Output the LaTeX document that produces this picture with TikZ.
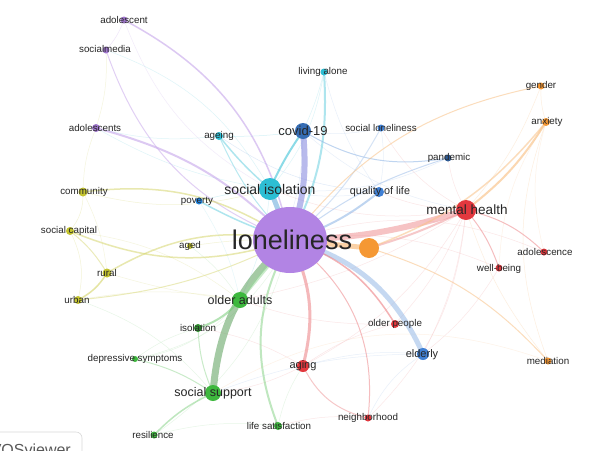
\documentclass[tikz,border=0pt]{standalone}
\usepackage{fontspec}
\newfontfamily\labfont{Liberation Sans}
\usetikzlibrary{shapes.geometric}
\definecolor{cpurple}{RGB}{178,132,228}
\definecolor{ccyan}{RGB}{45,190,212}
\definecolor{cblue}{RGB}{64,128,212}
\definecolor{cred}{RGB}{226,56,62}
\definecolor{corange}{RGB}{245,152,52}
\definecolor{cgreen}{RGB}{62,184,62}
\definecolor{cyellow}{RGB}{196,196,48}
\definecolor{ctext}{RGB}{38,38,38}
\pgfdeclarelayer{bg}
\pgfsetlayers{bg,main}
\tikzset{
  kwdot/.style={circle, inner sep=0pt, minimum size=#1},
  kwlab/.style={font={\labfont\fontsize{9.8}{10}\selectfont}, text=ctext, inner sep=0pt},
  biglab/.style={font={\labfont\fontsize{#1}{#1}\selectfont}, text=ctext, inner sep=0pt},
  lnk/.style={line cap=round, opacity=0.55},
  faintlnk/.style={line cap=round, line width=0.5pt, opacity=0.4},
}
\begin{document}
\begin{tikzpicture}[x=1pt,y=-1pt]
\useasboundingbox (0,0) rectangle (596,450);
% ---------- dots ----------
\node[ellipse, inner sep=0pt, minimum width=74pt, minimum height=66pt, fill=cpurple] (d-lon) at (290,240) {};
\node[kwdot=20pt, fill=corange] (d-orange) at (369,248) {};
\node[kwdot=22pt, fill=ccyan] (d-socis) at (270,189) {};
\node[kwdot=20pt, fill=cred] (d-mh) at (466,210) {};
\node[kwdot=16pt, fill=cblue!85!black] (d-covid) at (303,131) {};
\node[kwdot=16pt, fill=cgreen] (d-oldad) at (240,300) {};
\node[kwdot=16pt, fill=cgreen] (d-socsup) at (213,393) {};
\node[kwdot=12pt, fill=cred] (d-aging) at (303,366) {};
\node[kwdot=12pt, fill=cblue] (d-elderly) at (423,354) {};
\node[kwdot=10pt, fill=cblue] (d-qol) at (379,192) {};
\node[kwdot=7pt, fill=cpurple!90!black] (d-adolescent) at (124,20) {};
\node[kwdot=7pt, fill=cpurple!90!black] (d-socialmedia) at (106,50) {};
\node[kwdot=8pt, fill=cpurple!90!black] (d-adolescents) at (96,128) {};
\node[kwdot=8pt, fill=ccyan] (d-ageing) at (219,136) {};
\node[kwdot=7pt, fill=ccyan] (d-living) at (324,72) {};
\node[kwdot=7pt, fill=ccyan!70!blue] (d-poverty) at (199,201) {};
\node[kwdot=7pt, fill=cblue] (d-sollon) at (381,128) {};
\node[kwdot=7pt, fill=cblue!70!black] (d-pand) at (448,158) {};
\node[kwdot=7pt, fill=corange] (d-gender) at (541,86) {};
\node[kwdot=8pt, fill=corange] (d-anx) at (546,122) {};
\node[kwdot=7pt, fill=corange] (d-mediat) at (548,361) {};
\node[kwdot=7pt, fill=cred] (d-adolesc) at (544,252) {};
\node[kwdot=7pt, fill=cred] (d-wellb) at (499,268) {};
\node[kwdot=8pt, fill=cred] (d-oldpeo) at (395,324) {};
\node[kwdot=7pt, fill=cred] (d-neigh) at (368,418) {};
\node[kwdot=8pt, fill=cgreen] (d-lifesat) at (278,426) {};
\node[kwdot=7pt, fill=cgreen] (d-resil) at (154,435) {};
\node[kwdot=6pt, fill=cgreen] (d-depr) at (135,359) {};
\node[kwdot=8pt, fill=cgreen!80!black] (d-isol) at (198,328) {};
\node[kwdot=9pt, fill=cyellow] (d-community) at (83,192) {};
\node[kwdot=8pt, fill=cyellow] (d-scap) at (70,231) {};
\node[kwdot=9pt, fill=cyellow] (d-rural) at (107,273) {};
\node[kwdot=8pt, fill=cyellow] (d-urban) at (78,300) {};
\node[kwdot=6pt, fill=cyellow] (d-aged) at (190,246) {};
% ---------- edges ----------
\begin{pgfonlayer}{bg}
\fill[white] (0,0) rectangle (596,450);
\foreach \a/\b/\c/\bd in {
  d-adolescent/d-socialmedia/cpurple!50/10,
  d-socialmedia/d-adolescents/cyellow!40/10,
  d-adolescents/d-community/cyellow!40/-10,
  d-adolescent/d-socis/cpurple!40/-20,
  d-socialmedia/d-socis/ccyan!40/20,
  d-adolescents/d-socis/ccyan!40/-10,
  d-adolescents/d-ageing/ccyan!40/-10,
  d-ageing/d-covid/ccyan!50/-5,
  d-ageing/d-qol/cblue!40/-15,
  d-community/d-socis/cyellow!50/-15,
  d-community/d-rural/cyellow!40/10,
  d-community/d-scap/cyellow!50/20,
  d-scap/d-urban/cyellow!50/20,
  d-scap/d-oldad/cyellow!40/15,
  d-urban/d-oldad/cyellow!40/10,
  d-urban/d-socsup/cgreen!30/15,
  d-rural/d-oldad/cyellow!40/-5,
  d-aged/d-lon/cyellow!50/5,
  d-aged/d-oldad/cgreen!30/10,
  d-poverty/d-oldad/ccyan!30/10,
  d-depr/d-oldad/cgreen!30/-20,
  d-depr/d-lon/cgreen!30/-25,
  d-depr/d-isol/cgreen!30/10,
  d-resil/d-lon/cgreen!30/-20,
  d-resil/d-lifesat/cgreen!30/10,
  d-lifesat/d-neigh/cred!30/10,
  d-lifesat/d-aging/cgreen!30/10,
  d-socsup/d-aging/cred!30/-10,
  d-socsup/d-elderly/cblue!30/10,
  d-socsup/d-mediat/corange!30/25,
  d-isol/d-aging/cred!30/10,
  d-oldad/d-oldpeo/cred!30/-10,
  d-oldad/d-mh/cred!30/-10,
  d-aging/d-oldpeo/cred!30/10,
  d-aging/d-elderly/cblue!30/10,
  d-aging/d-mh/cred!30/-15,
  d-neigh/d-elderly/cblue!30/15,
  d-neigh/d-mh/cred!30/-20,
  d-oldpeo/d-mh/cred!30/-10,
  d-elderly/d-mh/cred!30/-10,
  d-elderly/d-wellb/cred!30/-10,
  d-mediat/d-anx/corange!40/20,
  d-mediat/d-mh/corange!40/10,
  d-wellb/d-lon/cred!30/-15,
  d-adolesc/d-lon/cred!30/-20,
  d-adolesc/d-anx/corange!30/15,
  d-wellb/d-anx/corange!30/15,
  d-gender/d-mh/corange!40/10,
  d-gender/d-anx/corange!40/-10,
  d-pand/d-mh/cred!30/-10,
  d-pand/d-socis/cblue!30/15,
  d-sollon/d-mh/cred!30/-15,
  d-sollon/d-covid/cblue!30/10,
  d-sollon/d-qol/cblue!30/10,
  d-qol/d-mh/cred!30/-10,
  d-qol/d-socis/cblue!30/10,
  d-living/d-socis/ccyan!40/15,
  d-living/d-covid/ccyan!40/5,
  d-living/d-qol/cblue!30/-10,
  d-covid/d-mh/cblue!30/-15,
  d-covid/d-oldad/cblue!30/20,
  d-socis/d-oldad/ccyan!40/10,
  d-socis/d-mh/cred!30/-15,
  d-poverty/d-socis/ccyan!50/5}
  \draw[faintlnk, draw=\c] (\a.center) to[bend left=\bd] (\b.center);
% main links
\draw[lnk, draw=ccyan!60!cpurple, line width=5pt] (d-lon.center) -- (d-socis.center);
\draw[lnk, draw=cblue!45!cpurple, line width=6pt] (d-covid.center) to[bend left=12] (d-lon.center);
\draw[lnk, draw=ccyan, line width=2pt] (d-covid.center) to[bend right=5] (d-socis.center);
\draw[lnk, draw=ccyan!70, line width=2pt] (d-living.center) to[bend left=15] (d-lon.center);
\draw[lnk, draw=cred!55, line width=6pt] (d-lon.center) to[bend right=8] (d-mh.center);
\draw[lnk, draw=corange!80, line width=5pt] (d-lon.center) -- (d-orange.center);
\draw[lnk, draw=cred!50, line width=2pt] (d-orange.center) to[bend right=5] (d-mh.center);
\draw[lnk, draw=cblue!55, line width=5pt] (d-lon.center) to[bend left=25] (d-elderly.center);
\draw[lnk, draw=cred!70, line width=1.5pt] (d-lon.center) to[bend left=20] (d-oldpeo.center);
\draw[lnk, draw=cred!65, line width=3pt] (d-lon.center) to[bend left=20] (d-aging.center);
\draw[lnk, draw=cred!60, line width=1pt] (d-lon.center) to[bend left=30] (d-neigh.center);
\draw[lnk, draw=cred!50, line width=1pt] (d-aging.center) to[bend right=25] (d-neigh.center);
\draw[lnk, draw=cgreen!55!gray, line width=7pt] (d-lon.center) to[bend right=22] (d-socsup.center);
\draw[lnk, draw=cgreen!50, line width=3pt] (d-lon.center) -- (d-oldad.center);
\draw[lnk, draw=cgreen!70, line width=2pt] (d-oldad.center) to[bend left=15] (d-isol.center);
\draw[lnk, draw=cgreen!60, line width=2pt] (d-lon.center) to[bend right=25] (d-lifesat.center);
\draw[lnk, draw=cgreen!60, line width=1.5pt] (d-socsup.center) to[bend right=10] (d-resil.center);
\draw[lnk, draw=cgreen!50, line width=1pt] (d-socsup.center) to[bend right=10] (d-depr.center);
\draw[lnk, draw=cgreen!50, line width=1pt] (d-socsup.center) to[bend left=10] (d-isol.center);
\draw[lnk, draw=cpurple!80, line width=2pt] (d-adolescents.center) to[bend left=15] (d-lon.center);
\draw[lnk, draw=cpurple!80, line width=1.5pt] (d-adolescent.center) to[bend left=25] (d-lon.center);
\draw[lnk, draw=cpurple!70, line width=1pt] (d-socialmedia.center) to[bend right=25] (d-lon.center);
\draw[lnk, draw=cyellow!70, line width=1.5pt] (d-community.center) to[bend left=20] (d-lon.center);
\draw[lnk, draw=cyellow!70, line width=1.5pt] (d-scap.center) to[bend right=20] (d-lon.center);
\draw[lnk, draw=cyellow!70, line width=1.5pt] (d-rural.center) to[bend left=20] (d-lon.center);
\draw[lnk, draw=cyellow!80, line width=1.5pt] (d-rural.center) to[bend left=15] (d-urban.center);
\draw[lnk, draw=cyellow!60, line width=1pt] (d-urban.center) to[bend right=10] (d-lon.center);
\draw[lnk, draw=cyellow!60, line width=1pt] (d-scap.center) to[bend left=10] (d-rural.center);
\draw[lnk, draw=ccyan!70, line width=1.5pt] (d-ageing.center) to[bend right=5] (d-socis.center);
\draw[lnk, draw=ccyan!60, line width=1pt] (d-ageing.center) to[bend right=10] (d-lon.center);
\draw[lnk, draw=ccyan!70, line width=1.5pt] (d-poverty.center) to[bend right=5] (d-lon.center);
\draw[lnk, draw=cblue!60, line width=1pt] (d-covid.center) to[bend right=20] (d-pand.center);
\draw[lnk, draw=cblue!50, line width=1pt] (d-pand.center) to[bend right=10] (d-lon.center);
\draw[lnk, draw=cblue!60, line width=2pt] (d-lon.center) to[bend right=10] (d-qol.center);
\draw[lnk, draw=cblue!40, line width=1pt] (d-sollon.center) to[bend left=10] (d-lon.center);
\draw[lnk, draw=corange!70, line width=2pt] (d-mh.center) to[bend right=10] (d-anx.center);
\draw[lnk, draw=corange!60, line width=1.5pt] (d-orange.center) to[bend right=15] (d-anx.center);
\draw[lnk, draw=corange!60, line width=1pt] (d-gender.center) to[bend right=20] (d-lon.center);
\draw[lnk, draw=cred!60, line width=1pt] (d-mh.center) to[bend left=15] (d-adolesc.center);
\draw[lnk, draw=cred!60, line width=1pt] (d-mh.center) to[bend left=10] (d-wellb.center);
\draw[lnk, draw=corange!60, line width=1pt] (d-orange.center) to[bend left=15] (d-mediat.center);
\end{pgfonlayer}
% ---------- labels ----------
\node[biglab=27] (t-lon) at (292,240) {loneliness};
\node[biglab=14] (t-socis) at (270,189) {social isolation};
\node[biglab=13.5] (t-mh) at (467,210) {mental health};
\node[biglab=13] (t-covid) at (303,131) {covid-19};
\node[biglab=12.5] (t-oldad) at (240,300) {older adults};
\node[biglab=12.5] (t-socsup) at (213,393) {social support};
\node[biglab=10.8] (t-qol) at (380,192) {quality of life};
\node[biglab=11] (t-elderly) at (422,355) {elderly};
\node[biglab=11] (t-aging) at (303,366) {aging};
\node[kwlab] (t-adolescent) at (124,20) {adolescent};
\node[kwlab] (t-socialmedia) at (105,49) {socialmedia};
\node[kwlab] (t-adolescents) at (95,128) {adolescents};
\node[kwlab] (t-ageing) at (219,136) {ageing};
\node[kwlab] (t-community) at (84,192) {community};
\node[kwlab] (t-poverty) at (197,201) {poverty};
\node[kwlab] (t-living) at (323,72) {living alone};
\node[kwlab] (t-sollon) at (381,128) {social loneliness};
\node[kwlab] (t-pand) at (449,158) {pandemic};
\node[kwlab] (t-gender) at (541,86) {gender};
\node[kwlab] (t-anx) at (547,122) {anxiety};
\node[kwlab] (t-adolesc) at (545,252) {adolescence};
\node[kwlab] (t-wellb) at (499,269) {well-being};
\node[kwlab] (t-scap) at (69,231) {social capital};
\node[kwlab] (t-aged) at (190,246) {aged};
\node[kwlab] (t-rural) at (107,273) {rural};
\node[kwlab] (t-urban) at (77,300) {urban};
\node[kwlab] (t-isol) at (198,328) {isolation};
\node[kwlab] (t-depr) at (135,359) {depressive symptoms};
\node[kwlab] (t-resil) at (153,435) {resilience};
\node[kwlab] (t-lifesat) at (279,426) {life satisfaction};
\node[kwlab] (t-neigh) at (368,418) {neighborhood};
\node[kwlab] (t-oldpeo) at (395,324) {older people};
\node[kwlab] (t-mediat) at (548,361) {mediation};
% ---------- VOSviewer box ----------
\begin{scope}
\clip (0,0) rectangle (596,450);
\draw[draw=gray!30, fill=white, rounded corners=6pt, line width=0.6pt] (-20,432) rectangle (82,480);
\node[anchor=north east, inner sep=0pt, font={\labfont\fontsize{16}{16}\selectfont}, text=gray!70!black] (t-vos) at (71,444) {VOSviewer};
\end{scope}
\end{tikzpicture}
\end{document}
